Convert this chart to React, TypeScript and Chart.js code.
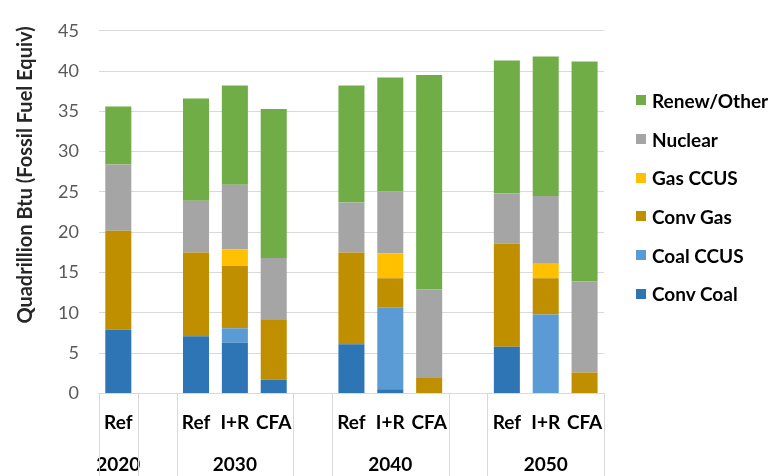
import React, { useEffect, useRef } from 'react';
import { Chart, registerables } from 'chart.js';

Chart.register(...registerables);

// ---- Data ----
const scenarioLabels = ['Ref', '', 'Ref', 'I+R', 'CFA', '', 'Ref', 'I+R', 'CFA', '', 'Ref', 'I+R', 'CFA'];
const yearLabels = ['2020', '', '', '2030', '', '', '', '2040', '', '', '', '2050', ''];
const groupBoundaries = [0, 1, 2, 5, 6, 9, 10, 13];

const convCoal = [7.9, null, 7.1, 6.3, 1.7, null, 6.1, 0.5, 0, null, 5.8, 0, 0];
const coalCCUS = [0, null, 0, 1.8, 0, null, 0, 10.2, 0, null, 0, 9.8, 0];
const convGas = [12.3, null, 10.4, 7.7, 7.5, null, 11.4, 3.6, 2.0, null, 12.8, 4.5, 2.6];
const gasCCUS = [0, null, 0, 2.1, 0, null, 0, 3.1, 0, null, 0, 1.8, 0];
const nuclear = [8.2, null, 6.4, 8.0, 7.6, null, 6.2, 7.7, 10.9, null, 6.2, 8.4, 11.3];
const renewOther = [7.2, null, 12.7, 12.3, 18.5, null, 14.5, 14.1, 26.6, null, 16.5, 17.3, 27.3];

const seriesNames = ['Conv Coal', 'Coal CCUS', 'Conv Gas', 'Gas CCUS', 'Nuclear', 'Renew/Other'];
const seriesValues = [convCoal, coalCCUS, convGas, gasCCUS, nuclear, renewOther];
const seriesColors = ['#2E75B6', '#5B9BD5', '#BF8F00', '#FFC000', '#A5A5A5', '#70AD47'];

const yMin = 0;
const yMax = 45;
const yStep = 5;
const yTitle = 'Quadrillion Btu (Fossil Fuel Equiv)';

const FONT = 'Lato, "Open Sans", sans-serif';

const categoryLabels = scenarioLabels.map((s, i) => [s, yearLabels[i]]);

const dividerPlugin = {
  id: 'groupDividers',
  afterDraw(chart: any) {
    const { ctx, chartArea } = chart;
    const xs = chart.scales.x;
    const n = scenarioLabels.length;
    const slot = (xs.right - xs.left) / n;
    ctx.save();
    ctx.strokeStyle = '#D9D9D9';
    ctx.lineWidth = 1;
    groupBoundaries.forEach((b) => {
      const px = Math.round(xs.left + b * slot) + 0.5;
      ctx.beginPath();
      ctx.moveTo(px, chartArea.bottom);
      ctx.lineTo(px, chart.height);
      ctx.stroke();
    });
    // y axis title
    ctx.translate(26, 175);
    ctx.rotate(-Math.PI / 2);
    ctx.font = `bold 20px ${FONT}`;
    ctx.fillStyle = '#262626';
    ctx.textAlign = 'center';
    ctx.textBaseline = 'middle';
    ctx.fillText(yTitle, 0, 0);
    ctx.restore();
  },
};

export default function App() {
  const canvasRef = useRef<HTMLCanvasElement | null>(null);

  useEffect(() => {
    document.body.style.margin = '0';
    const canvas = canvasRef.current;
    if (!canvas) return;
    const chart = new Chart(canvas, {
      type: 'bar',
      data: {
        labels: categoryLabels,
        datasets: seriesNames.map((name, i) => ({
          label: name,
          data: seriesValues[i],
          backgroundColor: seriesColors[i],
          borderWidth: 0,
          barPercentage: 0.67,
          categoryPercentage: 1,
        })),
      },
      options: {
        animation: false,
        responsive: false,
        maintainAspectRatio: false,
        layout: { padding: { left: 38, right: 176, top: 18, bottom: -19 } },
        plugins: {
          legend: { display: false },
          tooltip: { enabled: false },
          title: { display: false },
        },
        scales: {
          x: {
            type: 'category',
            stacked: true,
            offset: true,
            grid: { display: false, drawTicks: false },
            border: { display: true, color: '#D9D9D9' },
            ticks: {
              autoSkip: false,
              maxRotation: 0,
              minRotation: 0,
              color: '#000000',
              font: { family: FONT, size: 19, weight: 'bold', lineHeight: 2.2 },
              padding: 9,
            },
          },
          y: {
            stacked: true,
            min: yMin,
            max: yMax,
            grid: { color: '#D9D9D9', drawTicks: false },
            border: { display: false },
            ticks: {
              stepSize: yStep,
              color: '#595959',
              font: { family: FONT, size: 18 },
              padding: 20,
            },
          },
        },
      },
      plugins: [dividerPlugin],
    });
    return () => chart.destroy();
  }, []);

  const legendOrder = [5, 4, 3, 2, 1, 0];

  return (
    <div style={{ position: 'relative', width: 780, height: 476, background: '#fff', overflow: 'hidden' }}>
      <canvas ref={canvasRef} width={780} height={476} style={{ display: 'block' }} />
      <div style={{ position: 'absolute', left: 636, top: 81, fontFamily: FONT, fontWeight: 'bold', fontSize: 19, color: '#000' }}>
        {legendOrder.map((i) => (
          <div key={seriesNames[i]} style={{ display: 'flex', alignItems: 'center', height: 38.7, whiteSpace: 'nowrap' }}>
            <span style={{ display: 'inline-block', width: 10, height: 10, background: seriesColors[i], marginRight: 6 }} />
            <span>{seriesNames[i]}</span>
          </div>
        ))}
      </div>
    </div>
  );
}
